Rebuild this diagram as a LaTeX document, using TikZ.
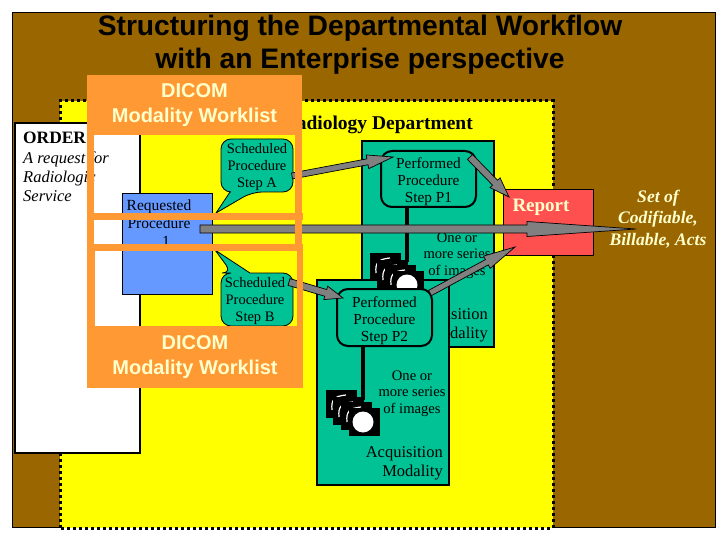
\documentclass[tikz,border=0pt]{standalone}
\usepackage{fontspec}
\setmainfont{Liberation Serif}
\newfontfamily\arialf{Liberation Sans}
\usetikzlibrary{calc}
\definecolor{brownbg}{HTML}{996600}
\definecolor{yel}{HTML}{FFFF00}
\definecolor{orng}{HTML}{FF9933}
\definecolor{grn}{HTML}{00C295}
\definecolor{blu}{HTML}{6699FF}
\definecolor{rd}{HTML}{FF5050}
\definecolor{cream}{HTML}{FFFFCC}
\definecolor{gry}{HTML}{808080}
\tikzset{
  box/.style={anchor=north west,inner sep=0pt,outer sep=0pt},
  greenbox/.style={box,draw=black,line width=2pt,fill=grn},
  stepbox/.style={box,draw=black,line width=2pt,fill=grn,rounded corners=11pt,align=center,font=\fontsize{15.3}{17}\selectfont},
  dicomtext/.style={box,fill=orng,align=center,text=cream,font=\arialf\bfseries\fontsize{20}{24.5}\selectfont},
  callout/.style={draw=black,line width=0.8pt,fill=grn},
  calltext/.style={inner sep=0pt,align=center,font=\fontsize{14.5}{17}\selectfont},
  modtext/.style={inner sep=0pt,align=right,anchor=east,font=\fontsize{16.5}{19}\selectfont},
  sertext/.style={inner sep=0pt,align=center,font=\fontsize{14.6}{16.6}\selectfont},
  grayarrow/.style={draw=black,line width=0.7pt,fill=gry,line join=miter},
  linker/.style={draw=black,line width=3.5pt}
}
\newcommand{\garrow}[5]{%
  \coordinate (hb) at ($(#2)!#4!(#1)$);
  \filldraw[grayarrow] ($(#1)!#3!90:(#2)$) -- ($(hb)!#3!-90:(#1)$) -- ($(hb)!#5!-90:(#1)$) -- (#2) -- ($(hb)!#5!90:(#1)$) -- ($(hb)!#3!90:(#1)$) -- ($(#1)!#3!-90:(#2)$) -- cycle;}
\newcommand{\filmsq}[2]{%
  \fill[black] (#1,#2) rectangle ++(31,28);
  \draw[white,line width=1.2pt] (#1+6,#2+20) .. controls (#1+5,#2+10) and (#1+8,#2+6) .. (#1+20,#2+5);}
\newcommand{\filmicons}[2]{%
  \filmsq{#1}{#2}\filmsq{#1+7}{#2+7}\filmsq{#1+15}{#2+12}%
  \fill[black] (#1+23,#2+18) rectangle ++(31,28);
  \fill[white] (#1+37,#2+32) circle (10.5);}
\begin{document}
\begin{tikzpicture}[x=1pt,y=-1pt]
\useasboundingbox (0,0) rectangle (720,540);
\fill[white] (0,0) rectangle (720,540);
\node[box,draw=black,line width=0.8pt,fill=brownbg,minimum width=703pt,minimum height=515pt] (bg) at (12,12) {};
\node[inner sep=0pt,align=center,font=\arialf\bfseries\fontsize{28.2}{33}\selectfont] (title) at (360,45) {Structuring the Departmental Workflow\\with an Enterprise perspective};
% yellow department
\fill[yel] (60,101) rectangle (553,528);
\draw[black,line width=3pt,dash pattern=on 3pt off 3pt] (60,528) -- (60,101) -- (553,101) -- (553,528) -- cycle;
\node[inner sep=0pt,anchor=east,font=\bfseries\fontsize{19.5}{20}\selectfont] (dept) at (473,125) {Radiology Department};
% order
\node[box,draw=black,line width=2.5pt,fill=white,minimum width=125pt,minimum height=330pt] (order) at (15,123) {};
\node[inner sep=0pt,anchor=base west,font=\bfseries\fontsize{17.4}{20}\selectfont] (ordert) at (23,143.5) {ORDER};
\node[inner sep=0pt,anchor=north west,align=left,font=\itshape\fontsize{16.5}{18.7}\selectfont] (ordertx) at (23,152) {A request for\\Radiologic\\Service};
% requested procedure
\node[box,draw=black,line width=0.7pt,fill=blu,minimum width=90pt,minimum height=101pt] (rp) at (122,193) {};
\node[inner sep=0pt,anchor=north,align=center,font=\fontsize{15.5}{18}\selectfont] (rpt) at (159,199.5) {Requested\\Procedure\\\hspace*{14pt}1};
% callouts
\draw[callout,rounded corners=10pt] (221,165) -- (221,139) -- (293,139) -- (293,192) -- (252,192) [sharp corners] -- (216,213) -- (230,192) [rounded corners=10pt] -- (221,192) -- cycle;
\node[calltext] (spa) at (257,167) {Scheduled\\Procedure\\Step A};
\draw[callout,rounded corners=10pt] (221,300) -- (221,273) -- (232,273) [sharp corners] -- (215,250) -- (250,273) [rounded corners=10pt] -- (293,273) -- (293,326) -- (221,326) -- cycle;
\node[calltext] (spb) at (255,301) {Scheduled\\Procedure\\Step B};
% back acquisition modality
\node[greenbox,minimum width=132pt,minimum height=206pt] (acq1) at (362,141) {};
\node[stepbox,minimum width=95pt,minimum height=56pt] (p1) at (381,151) {\rule{0pt}{17pt}Performed\\Procedure\\Step P1};
\coordinate (fil1) at (407,262);
\draw[linker] (p1.south -| fil1) -- (fil1);
\node[sertext] (ser1) at (457,255.5) {One or\\more series\\of images};
\node[modtext] (acqt1) at (488,325) {Acquisition\\Modality};
% front acquisition modality
\node[greenbox,minimum width=132pt,minimum height=205pt] (acq2) at (317,280) {};
\filmicons{370}{253}
\node[stepbox,minimum width=95pt,minimum height=57pt] (p2) at (337,289) {\rule{0pt}{17pt}Performed\\Procedure\\Step P2};
\coordinate (fil2) at (363,400);
\draw[linker] (p2.south -| fil2) -- (fil2);
\filmicons{326}{390}
\node[sertext] (ser2) at (412,393.5) {One or\\more series\\of images};
\node[modtext] (acqt2) at (443,463.5) {Acquisition\\Modality};
% report
\node[box,draw=black,line width=0.8pt,fill=rd,minimum width=90pt,minimum height=66pt] (report) at (503,189) {};
\node[inner sep=0pt,text=cream,font=\bfseries\fontsize{19}{22}\selectfont] (reportt) at (541,207) {Report};
\node[inner sep=0pt,align=center,text=cream,font=\bfseries\itshape\fontsize{17.6}{21.5}\selectfont] (acts) at (658,219) {Set of\\Codifiable,\\Billable, Acts};
% connectors
\coordinate (a1) at (292,176);
\coordinate (a2) at (393,157);
\garrow{a1}{a2}{3pt}{26pt}{7pt}
\coordinate (b1) at (289,282);
\coordinate (b2) at (343,298);
\garrow{b1}{b2}{3.5pt}{18pt}{7pt}
\coordinate (c1) at (470,157);
\coordinate (c2) at (509,197);
\garrow{c1}{c2}{3.5pt}{20pt}{7pt}
\coordinate (d1) at (430,293);
\coordinate (d2) at (515,247);
\garrow{d1}{d2}{3pt}{32pt}{7pt}
\coordinate (e1) at (200,229);
\coordinate (e2) at (636,229);
\garrow{e1}{e2}{4pt}{109pt}{7.5pt}
% orange frame
\node[dicomtext,minimum width=215pt,minimum height=60pt] (dicom1) at (87,75) {DICOM\\Modality Worklist};
\fill[orng] (87,135) rectangle (94,251);
\fill[orng] (295,135) rectangle (302,251);
\fill[orng] (87,213) rectangle (303,220);
\fill[orng] (87,244) rectangle (303,251);
\fill[orng] (87,251) rectangle (95,326);
\fill[orng] (297,251) rectangle (303,326);
\node[dicomtext,minimum width=216pt,minimum height=62pt] (dicom2) at (87,326) {DICOM\\Modality Worklist};
\end{tikzpicture}
\end{document}
